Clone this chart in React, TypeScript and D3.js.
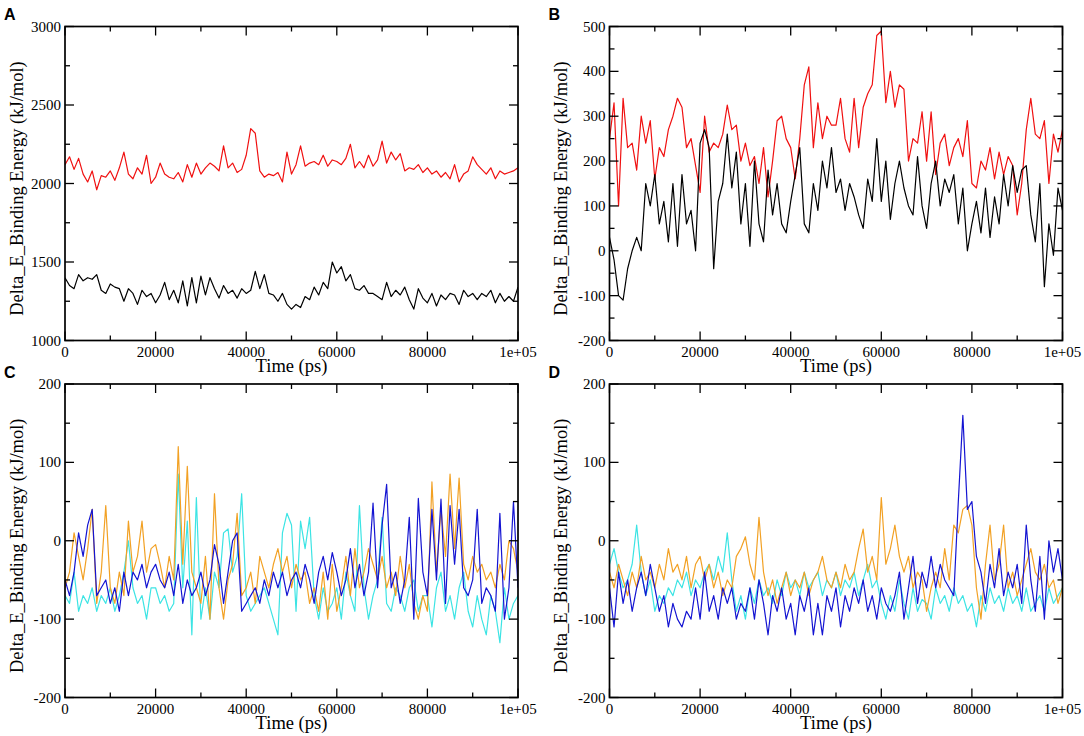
import * as d3 from "d3";

// x axis, shared by all four panels
const xTicks = [0, 20000, 40000, 60000, 80000, 100000];
const xTickLabels = ["0", "20000", "40000", "60000", "80000", "1e+05"];
const X_MAX = 100000;

const aTicks = [1000, 1500, 2000, 2500, 3000];
const bTicks = [-200, -100, 0, 100, 200, 300, 400, 500];
const cdTicks = [-200, -100, 0, 100, 200];

// values, one per 1000 ps
const aRed = [
  2120, 2170, 2090, 2160, 2060, 2010, 2080, 1960, 2050, 2040,
  2080, 2020, 2100, 2200, 2060, 2030, 2100, 2060, 2180, 2000,
  2040, 2130, 2060, 2040, 2030, 2070, 2010, 2120, 2040, 2130,
  2060, 2100, 2130, 2110, 2080, 2240, 2100, 2130, 2070, 2090,
  2180, 2350, 2320, 2080, 2040, 2060, 2050, 2070, 2010, 2200,
  2060, 2120, 2240, 2110, 2130, 2140, 2120, 2180, 2110, 2150,
  2140, 2120, 2160, 2250, 2100, 2140, 2100, 2180, 2110, 2150,
  2270, 2130, 2200, 2150, 2190, 2080, 2100, 2090, 2120, 2070,
  2100, 2060, 2080, 2040, 2070, 2030, 2120, 2010, 2060, 2080,
  2170, 2120, 2090, 2060, 2100, 2030, 2080, 2060, 2070, 2080,
  2100,
];
const aBlack = [
  1400, 1350, 1330, 1420, 1380, 1400, 1390, 1420, 1320, 1300,
  1360, 1340, 1330, 1250, 1330, 1300, 1230, 1320, 1280, 1300,
  1240, 1290, 1370, 1260, 1320, 1240, 1380, 1220, 1400, 1240,
  1410, 1290, 1400, 1330, 1270, 1350, 1300, 1320, 1270, 1330,
  1300, 1320, 1440, 1330, 1420, 1300, 1290, 1250, 1300, 1230,
  1200, 1230, 1210, 1280, 1260, 1340, 1290, 1370, 1330, 1500,
  1430, 1470, 1380, 1420, 1330, 1320, 1350, 1300, 1300, 1280,
  1260, 1370, 1280, 1320, 1290, 1340, 1260, 1200, 1330, 1270,
  1240, 1300, 1220, 1290, 1260, 1300, 1290, 1230, 1320, 1280,
  1300, 1260, 1300, 1280, 1320, 1240, 1300, 1250, 1280, 1250,
  1340,
];
const bRed = [
  250, 330, 100, 340, 230, 240, 180, 300, 240, 290,
  160, 230, 210, 270, 300, 340, 320, 230, 250, 190,
  130, 300, 220, 240, 230, 260, 325, 270, 280, 200,
  240, 190, 210, 150, 230, 120, 200, 290, 300, 250,
  230, 160, 250, 370, 410, 230, 330, 250, 300, 280,
  280, 340, 250, 220, 340, 230, 320, 350, 370, 480,
  490, 330, 400, 320, 370, 360, 200, 250, 240, 310,
  200, 310, 170, 240, 260, 190, 230, 250, 210, 290,
  150, 140, 200, 180, 230, 160, 220, 170, 210, 190,
  80, 150, 270, 340, 260, 250, 290, 150, 260, 220,
  270,
];
const bBlack = [
  30, -20, -100, -110, -40, 0, 30, 0, 150, 100,
  170, 60, 110, 20, 150, 10, 170, 60, 90, 0,
  240, 270, 230, -40, 110, 150, 260, 140, 220, 60,
  150, 10, 200, 60, 20, 180, 80, 150, 60, 40,
  110, 170, 230, 60, 40, 150, 90, 200, 140, 230,
  130, 160, 90, 150, 120, 80, 50, 160, 110, 250,
  110, 200, 70, 150, 200, 140, 100, 80, 210, 100,
  50, 150, 200, 100, 160, 130, 170, 60, 140, 0,
  60, 110, 40, 140, 30, 120, 60, 170, 100, 190,
  130, 180, 190, 80, 20, 150, -80, 60, -10, 140,
  90,
];
const cBlue = [
  -50, -70, -40, 10, -20, 20, 40, -70, -60, -50,
  -80, -60, -90, -40, -70, -40, -50, -30, -60, -40,
  -30, -50, -60, -40, -70, -30, -80, -50, -70, -60,
  -40, -70, -50, -5, -30, -80, -40, 0, 10, -90,
  -80, -70, -60, -80, -50, -70, -40, -60, -40, -70,
  -50, -40, -60, -30, -50, -80, -40, -20, -50, -15,
  -40, -70, -50, -10, -60, -30, -70, -40, 48, -60,
  20, 72, -60, -40, -80, -50, 30, -100, 54, -40,
  -70, 40, -50, 53, -80, 45, -30, 40, -60, -70,
  -50, 40, -80, -60, -70, -90, 35, -100, -60, 50,
  -60,
];
const cOrange = [
  -60, -40, 10, -20, -50, -10, 40, -80, -40, 45,
  -60, -80, -40, -70, 25, -40, -20, 25, -40, -10,
  -5, -30, -60, -20, -50, 120, -30, 95, -40, -60,
  -80, -20, -100, 60, -60, -100, -50, -30, 35, -70,
  -60, -40, -80, -20, -40, -60, -30, -10, -40, -20,
  -60, -30, -50, -40, -80, -60, -90, -40, -100, -30,
  -90, -60, -20, -70, -10, -60, -40, -10, -30, -50,
  -20, -60, -40, -70, -20, -60, -30, -80, -100, -70,
  -90, 75, -40, 40, -20, 85, -10, 80, -30, -50,
  -20, -40, -30, -50, -40, -60, -30, -50, 0, -10,
  -40,
];
const cCyan = [
  -70, -80, -40, -90, -70, -80, -60, -90, -70, -80,
  -60, -90, -70, -40, 0, -60, -80, -70, -100, -60,
  -60, -80, -70, -90, -80, 85, -60, 25, -120, 55,
  -100, -60, -100, -40, -60, 10, 15, -40, -20, 60,
  -70, -90, -80, -70, -60, -80, -100, -120, 10, 35,
  20, -90, 25, -10, 30, -70, -100, -60, -90, -80,
  -60, -100, -40, -70, -90, 45, -60, -100, -70, -50,
  30, -80, -90, -60, -70, -90, -60, -50, -90, -70,
  -70, -110, -60, -40, -90, -70, -100, -60, -40, -90,
  -110, -70, -100, -120, -70, -90, -130, -60, -100, -80,
  -70,
];
const dBlue = [
  -60, -110, -40, -80, -50, -90, -60, -40, -70, -30,
  -60, -90, -70, -110, -80, -100, -110, -90, -100, -60,
  -100, -40, -90, -70, -100, -60, -80, -60, -100, -80,
  -90, -60, -100, -50, -80, -120, -70, -90, -60, -100,
  -80, -120, -70, -90, -60, -120, -80, -120, -70, -90,
  -60, -110, -70, -90, -60, -80, -50, -90, -70, -100,
  -60, -80, -90, -70, -40, -100, -60, -20, -80, -40,
  -60, -20, -60, -30, -50, -60, -70, 50, 160, 40,
  50, -20, -40, -80, -30, -60, -10, -70, -40, -60,
  -30, -80, 20, -50, -90, -20, -100, 0, -40, -10,
  -50,
];
const dOrange = [
  -40, -60, -30, -50, -70, -40, -60, -20, -50, -40,
  -60, -30, -50, -10, -40, -30, -50, -20, -60, -30,
  -20, -50, -30, -60, -40, -70, -50, -60, -20, -10,
  5, -30, -50, 30, -40, -70, -50, -80, -60, -40,
  -70, -50, -60, -40, -70, -50, -40, -20, -50, -60,
  -40, -60, -30, -50, -40, -10, 15, -40, -20, -50,
  55, -30, -10, 20, -20, -40, -20, -60, -40, -50,
  -90, -60, -40, -60, -10, -50, 20, 10, 40, 45,
  20, -60, -100, -30, 20, -50, -30, 20, -60, -40,
  -70, -50, -30, -10, -40, -50, -30, -60, -50, -80,
  -60,
];
const dCyan = [
  -30, -10, -40, -60, -50, -30, 20, -40, -70, -50,
  -90, -70, -80, -60, -70, -50, -60, -40, -70, -50,
  -60, -40, -30, -50, -20, -40, 10, -50, -90, -70,
  -100, -60, -80, -50, -70, -60, -80, -50, -70, -40,
  -60, -50, -70, -40, -60, -50, -40, -70, -50, -60,
  -40, -70, -50, -60, -40, -70, -50, -30, -60, -50,
  -80, -100, -70, -90, -50, -80, -100, -60, -90, -75,
  -80, -100, -60, -80, -70, -90, -60, -80, -70, -90,
  -80, -110, -70, -90, -60, -80, -70, -90, -60, -80,
  -70, -90, -60, -90, -80, -70, -90, -60, -80, -70,
  -60,
];

const RED = "#f01010";
const BLACK = "#000000";
const BLUE = "#1414d2";
const ORANGE = "#f2a124";
const CYAN = "#3ce4e4";

const SERIF = "'Liberation Serif', 'Times New Roman', serif";
const SANS = "'Liberation Sans', Arial, sans-serif";

type Series = { values: number[]; color: string };
type PanelDef = {
  letter: string;
  left: number;
  top: number;
  bottom: number;
  domain: [number, number];
  ticks: number[];
  series: Series[];
};

const PLOT_W = 453;

const panels: PanelDef[] = [
  {
    letter: "A", left: 65, top: 26.5, bottom: 340.5, domain: [1000, 3000], ticks: aTicks,
    series: [{ values: aRed, color: RED }, { values: aBlack, color: BLACK }],
  },
  {
    letter: "B", left: 609.5, top: 26.5, bottom: 340.5, domain: [-200, 500], ticks: bTicks,
    series: [{ values: bRed, color: RED }, { values: bBlack, color: BLACK }],
  },
  {
    letter: "C", left: 65, top: 384, bottom: 697.5, domain: [-200, 200], ticks: cdTicks,
    series: [{ values: cCyan, color: CYAN }, { values: cOrange, color: ORANGE }, { values: cBlue, color: BLUE }],
  },
  {
    letter: "D", left: 609.5, top: 384, bottom: 697.5, domain: [-200, 200], ticks: cdTicks,
    series: [{ values: dCyan, color: CYAN }, { values: dOrange, color: ORANGE }, { values: dBlue, color: BLUE }],
  },
];

const MAJOR = 9;
const MINOR = 5;

function Panel({ p, idx }: { p: PanelDef; idx: number }) {
  const right = p.left + PLOT_W;
  const x = d3.scaleLinear().domain([0, X_MAX]).range([p.left, right]);
  const y = d3.scaleLinear().domain(p.domain).range([p.bottom, p.top]);

  const xMinor = xTicks.slice(0, -1).map((t, i) => (t + xTicks[i + 1]) / 2);
  const yMinor = p.ticks.slice(0, -1).map((t, i) => (t + p.ticks[i + 1]) / 2);

  const pathFor = (vals: number[]) =>
    d3.line<number>()
      .x((_, i) => x((i * X_MAX) / (vals.length - 1)))
      .y((d) => y(d))(vals) ?? "";

  const clipId = `clip-${idx}`;
  const midY = (p.top + p.bottom) / 2;

  return (
    <g>
      <defs>
        <clipPath id={clipId}>
          <rect x={p.left} y={p.top} width={PLOT_W} height={p.bottom - p.top} />
        </clipPath>
      </defs>

      <g clipPath={`url(#${clipId})`} fill="none" strokeWidth={1.2} strokeLinejoin="round">
        {p.series.map((s, i) => (
          <path key={i} d={pathFor(s.values)} stroke={s.color} />
        ))}
      </g>

      {/* ticks point inwards on all four sides */}
      <g stroke="#000" strokeWidth={1.3}>
        {xTicks.map((t) => (
          <g key={`xm${t}`}>
            <line x1={x(t)} x2={x(t)} y1={p.bottom} y2={p.bottom - MAJOR} />
            <line x1={x(t)} x2={x(t)} y1={p.top} y2={p.top + MAJOR} />
          </g>
        ))}
        {xMinor.map((t) => (
          <g key={`xn${t}`}>
            <line x1={x(t)} x2={x(t)} y1={p.bottom} y2={p.bottom - MINOR} />
            <line x1={x(t)} x2={x(t)} y1={p.top} y2={p.top + MINOR} />
          </g>
        ))}
        {p.ticks.map((t) => (
          <g key={`ym${t}`}>
            <line x1={p.left} x2={p.left + MAJOR} y1={y(t)} y2={y(t)} />
            <line x1={right} x2={right - MAJOR} y1={y(t)} y2={y(t)} />
          </g>
        ))}
        {yMinor.map((t) => (
          <g key={`yn${t}`}>
            <line x1={p.left} x2={p.left + MINOR} y1={y(t)} y2={y(t)} />
            <line x1={right} x2={right - MINOR} y1={y(t)} y2={y(t)} />
          </g>
        ))}
      </g>

      <rect x={p.left} y={p.top} width={PLOT_W} height={p.bottom - p.top}
        fill="none" stroke="#000" strokeWidth={1.7} />

      <g fontFamily={SERIF} fontSize={15} fill="#000">
        {xTicks.map((t, i) => (
          <text key={`xl${t}`} x={x(t)} y={p.bottom + 16} textAnchor="middle">{xTickLabels[i]}</text>
        ))}
        {p.ticks.map((t) => (
          <text key={`yl${t}`} x={p.left - 4} y={y(t) + 5} textAnchor="end">{String(t)}</text>
        ))}
      </g>

      <text x={p.left + PLOT_W / 2} y={p.bottom + 31.5} textAnchor="middle"
        fontFamily={SERIF} fontSize={18.5}>Time (ps)</text>
      <text transform={`translate(${p.left - 42.5},${midY + 5}) rotate(-90)`} textAnchor="middle"
        fontFamily={SERIF} fontSize={18.5}>Delta_E_Binding Energy (kJ/mol)</text>

      <text x={p.left - 61} y={p.top - 6.5} fontFamily={SANS} fontWeight="bold" fontSize={16}>
        {p.letter}
      </text>
    </g>
  );
}

export default function App() {
  return (
    <svg width={1084} height={736} viewBox="0 0 1084 736"
      style={{ position: "absolute", left: 0, top: 0, background: "#fff", display: "block" }}>
      <rect width={1084} height={736} fill="#fff" />
      {panels.map((p, i) => (
        <Panel key={p.letter} p={p} idx={i} />
      ))}
    </svg>
  );
}
